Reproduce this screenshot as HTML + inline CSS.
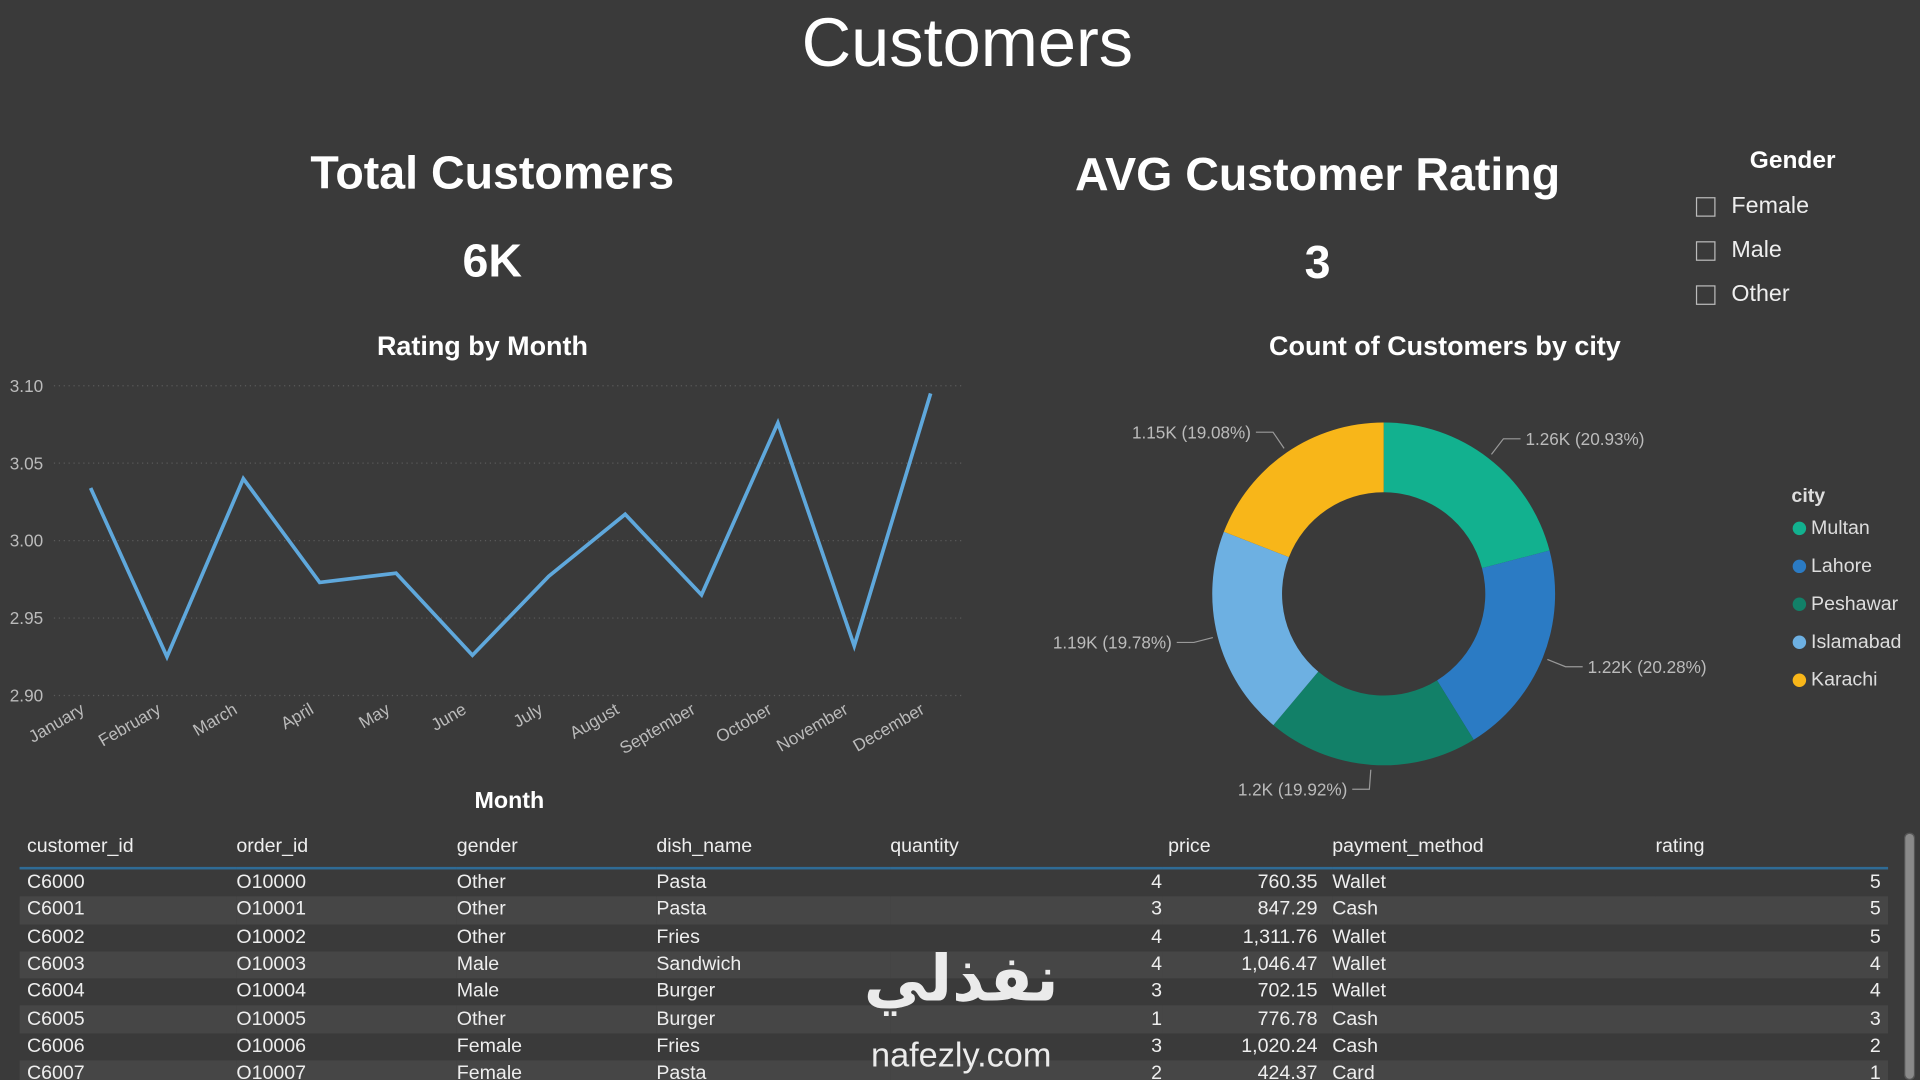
<!DOCTYPE html>
<html><head><meta charset="utf-8"><style>
html,body{margin:0;padding:0;background:#3a3a3a;overflow:hidden}
#stage{width:1568px;height:882px;position:relative;transform:scale(1.2244898);transform-origin:0 0;background:#3a3a3a;font-family:"Liberation Sans",sans-serif;color:#fff}
.abs{position:absolute}
.t{font-weight:bold;text-align:center}
.cb{position:absolute;width:16px;height:16px;border:1px solid #bbb;box-sizing:border-box}
.gl{position:absolute;left:1414px;font-size:19px;color:#eee}
.leg{position:absolute;left:1464px;font-size:16px;color:#ddd}
.leg i{display:inline-block;width:11px;height:11px;border-radius:50%;margin-right:4px;vertical-align:-1px}
table{border-collapse:collapse;font-size:16px;color:#eee;table-layout:fixed}
td{height:22.3px;padding:0;white-space:nowrap}
</style></head><body>
<div id="stage">
<div class="abs" style="left:0;width:1580px;top:2px;text-align:center;font-size:56px;color:#fff">Customers</div>
<div class="abs t" style="left:200px;width:404px;top:121px;font-size:38px">Total Customers</div>
<div class="abs t" style="left:200px;width:404px;top:193px;font-size:38px">6K</div>
<div class="abs t" style="left:826px;width:500px;top:122px;font-size:38px">AVG Customer Rating</div>
<div class="abs t" style="left:826px;width:500px;top:194px;font-size:38px">3</div>
<div class="abs t" style="left:1404px;width:120px;top:120px;font-size:20px">Gender</div>
<div class="cb" style="left:1385px;top:161px"></div><div class="gl" style="top:158px">Female</div>
<div class="cb" style="left:1385px;top:197px"></div><div class="gl" style="top:194px">Male</div>
<div class="cb" style="left:1385px;top:233px"></div><div class="gl" style="top:230px">Other</div>
<div class="abs t" style="left:200px;width:388px;top:270px;font-size:22px">Rating by Month</div>
<div class="abs t" style="left:980px;width:400px;top:270px;font-size:22px">Count of Customers by city</div>
<div class="abs t" style="left:356px;width:120px;top:644px;font-size:19px">Month</div>
<svg class="abs" id="chart" style="left:0;top:0" width="1568" height="882"></svg>
<div class="abs" style="left:1463px;top:397px;font-size:16px;font-weight:bold;color:#ddd">city</div>
<div id="legend"></div>
<div class="abs" style="left:16px;top:676px;width:1526px;height:206px;overflow:hidden">
<table id="tbl" style="width:1526px">
<colgroup><col style="width:177px"><col style="width:180px"><col style="width:163px"><col style="width:191px"><col style="width:222px"><col style="width:139px"><col style="width:264px"><col style="width:190px"></colgroup>
<tr style="height:33px;border-bottom:2px solid #2f6b95"><td style="padding-left:6px">customer_id</td><td>order_id</td><td>gender</td><td>dish_name</td><td>quantity</td><td style="padding-left:5px">price</td><td>payment_method</td><td>rating</td></tr>
</table></div>
<div class="abs" style="left:1555px;top:680px;width:9px;height:202px;background:#555;border-radius:4px"><div style="width:7px;margin:1px;height:200px;background:#8a8a8a;border-radius:4px"></div></div>
<div class="abs" style="left:690px;top:770px;width:190px;text-align:center;font-family:'DejaVu Sans',sans-serif;font-size:52px;font-weight:bold;color:#fff;opacity:.9">نفذلي</div>
<div class="abs" style="left:690px;top:846px;width:190px;text-align:center;font-size:28px;color:#fff;opacity:.9">nafezly.com</div>
</div>
<script>
const months=["January","February","March","April","May","June","July","August","September","October","November","December"];
const ratings=[3.034,2.925,3.040,2.973,2.979,2.926,2.977,3.017,2.965,3.076,2.932,3.095];
const yTicks=[3.10,3.05,3.00,2.95,2.90];
const cities=["Multan","Lahore","Peshawar","Islamabad","Karachi"];
const cityCounts=[1260,1220,1200,1190,1150];
const cityLabels=["1.26K (20.93%)","1.22K (20.28%)","1.2K (19.92%)","1.19K (19.78%)","1.15K (19.08%)"];
const cityColors=["#12b18f","#2b7bc4","#128068","#6db0e2","#f8b619"];
const rows=[["C6000","O10000","Other","Pasta",4,"760.35","Wallet",5],["C6001","O10001","Other","Pasta",3,"847.29","Cash",5],["C6002","O10002","Other","Fries",4,"1,311.76","Wallet",5],["C6003","O10003","Male","Sandwich",4,"1,046.47","Wallet",4],["C6004","O10004","Male","Burger",3,"702.15","Wallet",4],["C6005","O10005","Other","Burger",1,"776.78","Cash",3],["C6006","O10006","Female","Fries",3,"1,020.24","Cash",2],["C6007","O10007","Female","Pasta",2,"424.37","Card",1]];
const NS="http://www.w3.org/2000/svg";
const svg=document.getElementById('chart');
function mk(t,a,p){const e=document.createElementNS(NS,t);for(const k in a)e.setAttribute(k,a[k]);(p||svg).appendChild(e);return e;}
const X=i=>74+i*(760-74)/(months.length-1);
const Y=v=>568-(v-2.90)/(3.10-2.90)*(568-315);
yTicks.forEach(v=>{
 const g=mk('line',{x1:44,x2:785,y1:Y(v),y2:Y(v),stroke:'#5a5a5a','stroke-dasharray':'1 3'});
 
 
 const t=mk('text',{x:8,y:Y(v)+5,'font-size':14,fill:'#bbb','font-family':'Liberation Sans'});t.textContent=v.toFixed(2);
 
 
});
months.forEach((m,i)=>{
 const t=mk('text',{x:X(i)-4,y:582,'font-size':14,fill:'#bbb','font-family':'Liberation Sans','text-anchor':'end',transform:`rotate(-30 ${X(i)-4} 582)`});t.textContent=m;
 
 
});
const line=mk('polyline',{points:ratings.map((v,i)=>X(i)+','+Y(v)).join(' '),fill:'none',stroke:'#5fa8dc','stroke-width':3,'stroke-linejoin':'miter'});


const cx=1130,cy=485,R=140,r=83,total=cityCounts.reduce((a,b)=>a+b,0);
let a0=0;
const P=(ang,rad)=>[cx+rad*Math.sin(ang),cy-rad*Math.cos(ang)];
cityCounts.forEach((c,i)=>{
 const a1=a0+c/total*2*Math.PI,lg=(a1-a0)>Math.PI?1:0;
 const [x0,y0]=P(a0,R),[x1,y1]=P(a1,R),[x2,y2]=P(a1,r),[x3,y3]=P(a0,r);
 const s=mk('path',{d:`M${x0},${y0}A${R},${R} 0 ${lg} 1 ${x1},${y1}L${x2},${y2}A${r},${r} 0 ${lg} 0 ${x3},${y3}Z`,fill:cityColors[i]});
 
 
 const am=(a0+a1)/2,[lx,ly]=P(am,R+4),[mx,my]=P(am,R+20);
 const right=Math.sin(am)>=0,ex=mx+(right?14:-14);
 const l=mk('polyline',{points:`${lx},${ly} ${mx},${my} ${ex},${my}`,fill:'none',stroke:'#999','stroke-width':1});
 
 
 const t=mk('text',{x:ex+(right?4:-4),y:my+5,'font-size':14,fill:'#bbb','font-family':'Liberation Sans','text-anchor':right?'start':'end'});t.textContent=cityLabels[i];
 
 
 a0=a1;
});
const leg=document.getElementById('legend');
cities.forEach((c,i)=>{
 const d=document.createElement('div');d.className='leg';d.style.top=(423+i*31)+'px';
 d.innerHTML=`<i style="background:${cityColors[i]}"></i>${c}`;
 
 
 leg.appendChild(d);
});
const tb=document.getElementById('tbl');
rows.forEach((r,k)=>{
 const tr=document.createElement('tr');
 
 
 if(k%2)tr.style.background='#464646';
 tr.innerHTML=`<td style="padding-left:6px">${r[0]}</td><td>${r[1]}</td><td>${r[2]}</td><td>${r[3]}</td><td style="text-align:right;padding-right:0px">${r[4]}</td><td style="text-align:right;padding-right:12px">${r[5]}</td><td>${r[6]}</td><td style="text-align:right;padding-right:6px">${r[7]}</td>`;
 tb.appendChild(tr);
});
</script>
</body></html>
